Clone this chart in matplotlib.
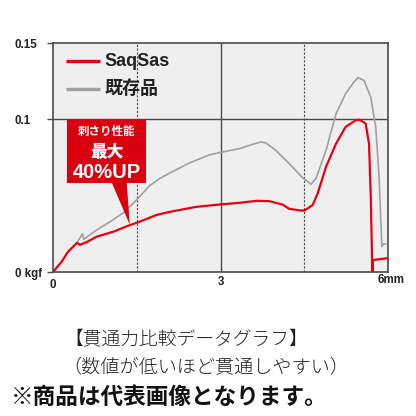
import matplotlib
matplotlib.use("Agg")
import matplotlib.pyplot as plt
from matplotlib.patches import Polygon, Rectangle

plt.rcParams['font.family'] = ['Liberation Sans', 'Noto Sans CJK JP', 'DejaVu Sans']

# ---- data ----
red_x = [0.0, 0.155, 0.27, 0.39, 0.43, 0.48, 0.60, 0.78, 1.08, 1.34, 1.55, 1.85, 2.09,
         2.57, 2.98, 3.34, 3.64, 3.875, 4.11, 4.23, 4.41, 4.50, 4.65, 4.74, 4.89, 5.07,
         5.24, 5.42, 5.49, 5.60, 5.66, 5.69, 5.72, 5.73, 5.96, 6.0]
red_y = [0.0, 0.0067, 0.0133, 0.0176, 0.0192, 0.0178, 0.0195, 0.0231, 0.0264, 0.0302,
         0.0329, 0.0373, 0.0394, 0.0427, 0.0442, 0.0453, 0.0466, 0.0464, 0.0442, 0.0414,
         0.0404, 0.0402, 0.0438, 0.0514, 0.0688, 0.0841, 0.095, 0.0993, 0.0998, 0.0972,
         0.0841, 0.0514, 0.0, 0.0078, 0.0089, 0.009]

gray_x = [0.45, 0.53, 0.55, 0.78, 1.02, 1.26, 1.49, 1.73, 1.91, 2.09, 2.45, 2.80, 2.98,
          3.34, 3.58, 3.73, 3.81, 3.99, 4.23, 4.47, 4.62, 4.71, 4.89, 5.07, 5.24, 5.39,
          5.46, 5.57, 5.69, 5.78, 5.84, 5.89, 5.91, 5.96]
gray_y = [0.0205, 0.0250, 0.0214, 0.0275, 0.0329, 0.0388, 0.047, 0.0565, 0.0612, 0.0648,
          0.0715, 0.0767, 0.0782, 0.0808, 0.0837, 0.0852, 0.0846, 0.0797, 0.071, 0.0618,
          0.0575, 0.0612, 0.0797, 0.1037, 0.1168, 0.1244, 0.1273, 0.1255, 0.1146, 0.095,
          0.0623, 0.0166, 0.0183, 0.0183]

series_names = ["SaqSas", "既存品"]
y_ticks = [0, 0.1, 0.15]
y_tick_labels = ["0 kgf", "0.1", "0.15"]
x_ticks = [0, 3, 6]
x_tick_labels = ["0", "3", "6mm"]
callout_lines = ["刺さり性能", "最大", "40%UP"]
caption_lines = ["【貫通力比較データグラフ】", "（数値が低いほど貫通しやすい）", "※商品は代表画像となります。"]

RED = "#e60012"
GRAY = "#a0a0a0"
FRAME = "#4a4a4a"
TXT = "#222222"

W = 416
fig = plt.figure(figsize=(4.16, 4.16), dpi=100)
fig.patch.set_facecolor("white")
ax = fig.add_axes([53 / W, 1 - 272 / W, (388 - 53) / W, (272 - 43) / W])
ax.set_facecolor("#efefef")
ax.set_xlim(0, 6)
ax.set_ylim(0, 0.15)

# grid lines
ax.axhline(0.1, color=FRAME, lw=1.0, zorder=1)
ax.axvline(3, color=FRAME, lw=1.0, zorder=1)
for xv in (1.5, 4.5):
    ax.axvline(xv, color=FRAME, lw=0.8, ls=(0, (2, 1.5)), zorder=1)

ax.plot(gray_x, gray_y, color=GRAY, lw=1.2, zorder=3)
ax.plot(red_x, red_y, color=RED, lw=1.6, zorder=4)

for s in ax.spines.values():
    s.set_color(FRAME)
    s.set_linewidth(1.2)

ax.set_yticks(y_ticks)
ax.set_yticklabels(y_tick_labels)
ax.set_xticks(x_ticks)
ax.set_xticklabels(["", x_tick_labels[1], ""])
ax.tick_params(axis='y', length=4, width=1.0, color=FRAME, pad=23.5, labelsize=8.3,
               labelcolor=TXT)
ax.tick_params(axis='x', length=0, pad=3, labelsize=8.3, labelcolor=TXT)
for lab in ax.get_yticklabels():
    lab.set_ha('left')
    lab.set_fontweight('bold')
for lab in ax.get_xticklabels():
    lab.set_fontweight('bold')
ax.annotate(x_tick_labels[0], xy=(0, 0), xycoords='data', xytext=(0, -9),
            textcoords='offset points', ha='center', va='center', fontsize=8.3,
            fontweight='bold', color=TXT, annotation_clip=False)
ax.annotate(x_tick_labels[2], xy=(6, 0), xycoords='data', xytext=(-7.5, -6),
            textcoords='offset points', ha='left', va='center', fontsize=8.3,
            fontweight='bold', color=TXT, annotation_clip=False)

# legend (manual, in axes fraction)
leg_y = [0.921, 0.799]
for col, name, yy in zip([RED, GRAY], series_names, leg_y):
    ax.plot([0.039, 0.140], [yy, yy], color=col, lw=2.4, transform=ax.transAxes,
            solid_capstyle='butt', zorder=6)
    ax.text(0.155, yy, name, transform=ax.transAxes, ha='left', va='center',
            fontsize=13, fontweight='bold', color=TXT, zorder=6,
            family=['Liberation Sans', 'Noto Sans CJK JP'])

# callout
CR = "#d9000f"
ax.add_patch(Rectangle((0.25, 0.0582), 1.41, 0.0411, facecolor=CR, edgecolor='none', zorder=5))
ax.add_patch(Polygon([(1.054, 0.0585), (1.32, 0.0585), (1.375, 0.031)], closed=True,
                     facecolor=CR, edgecolor='none', zorder=5))
cx = 0.965
ax.text(cx, 0.0922, callout_lines[0], ha='center', va='center', color='white', fontsize=8.3,
        fontweight='bold', family=['Noto Sans CJK JP'], zorder=6)
ax.text(cx, 0.0786, callout_lines[1], ha='center', va='center', color='white', fontsize=12,
        fontweight='black', family=['Noto Sans CJK JP'], zorder=6)
ax.text(cx, 0.0654, callout_lines[2], ha='center', va='center', color='white', fontsize=14.5,
        fontweight='bold', family=['Liberation Sans'], zorder=6)

# captions
fig.text(186 / W, 1 - 340 / W, caption_lines[0], ha='center', va='center', fontsize=13.5,
         family=['Noto Sans CJK JP'], fontweight='light', color=TXT)
fig.text(206 / W, 1 - 368 / W, caption_lines[1], ha='center', va='center', fontsize=13.8,
         family=['Noto Sans CJK JP'], fontweight='light', color=TXT)
fig.text(169 / W, 1 - 397 / W, caption_lines[2], ha='center', va='center', fontsize=16.3,
         family=['Noto Sans CJK JP'], fontweight='bold', color="#111111")

fig.savefig("out.png", dpi=100, facecolor="white")
